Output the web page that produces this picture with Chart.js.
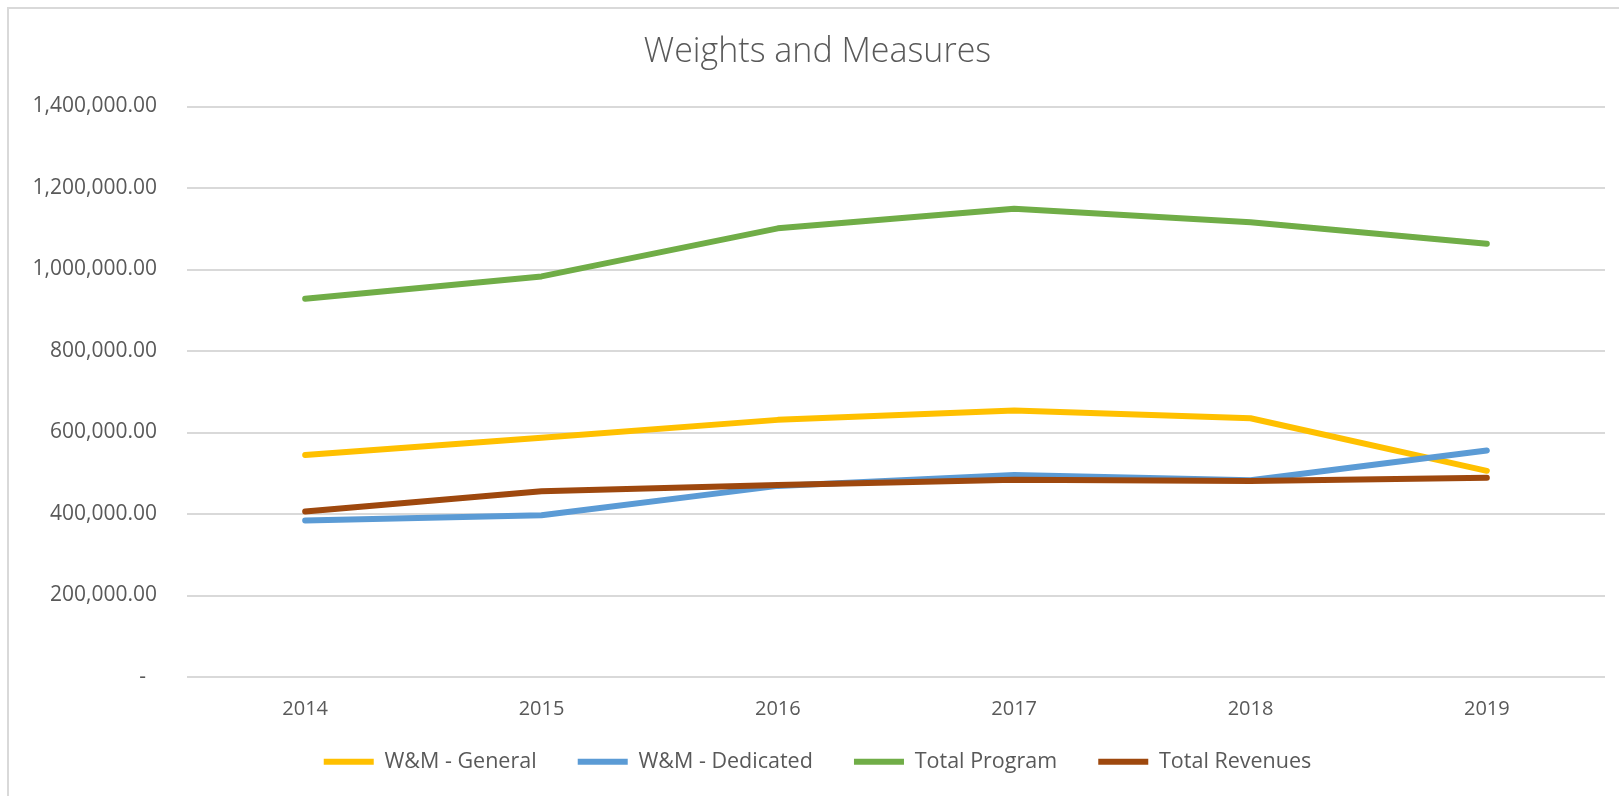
<!DOCTYPE html>
<html>
<head>
<meta charset="utf-8">
<script src="https://cdn.jsdelivr.net/npm/chart.js@4.4.1/dist/chart.umd.min.js"></script>
<style>
  html, body { margin: 0; padding: 0; background: #ffffff; }
  #wrap { position: relative; width: 1619px; height: 796px; overflow: hidden; }
  #c { position: absolute; left: 0; top: 0; }
  #frame { position: absolute; left: 7px; top: 7px; width: 1700px; height: 900px;
           border-left: 2px solid #d9d9d9; border-top: 2px solid #d9d9d9; pointer-events: none; }
</style>
</head>
<body>
<div id="wrap">
  <canvas id="c" width="1619" height="796"></canvas>
  <div id="frame"></div>
</div>
<script>
// ---- data ----
const categories = ['2014', '2015', '2016', '2017', '2018', '2019'];
const wmGeneral = [545000, 587000, 631000, 654000, 635000, 506000];
const wmDedicated = [384000, 397000, 469000, 496000, 483000, 556000];
const totalProgram = [928000, 983000, 1101000, 1149000, 1116000, 1063000];
const totalRevenues = [406000, 456000, 471000, 484000, 481000, 489000];
const seriesNames = ['W&M - General', 'W&M - Dedicated', 'Total Program', 'Total Revenues'];
const yTickLabels = ['-  ', '200,000.00', '400,000.00', '600,000.00', '800,000.00',
                     '1,000,000.00', '1,200,000.00', '1,400,000.00'];
const yMin = 0, yMax = 1400000, yStep = 200000;
const chartTitle = 'Weights and Measures';

// ---- styles ----
const colors = ['#FFC000', '#5B9BD5', '#70AD47', '#9E480E'];
const textColor = '#595959';
const gridColor = '#d9d9d9';
const FONT = "'Open Sans', 'Noto Sans', 'DejaVu Sans', sans-serif";

function makeDataset(label, data, color, order) {
  return {
    label: label,
    data: data,
    borderColor: color,
    backgroundColor: color,
    borderWidth: 6,
    borderCapStyle: 'round',
    borderJoinStyle: 'round',
    pointRadius: 0,
    pointHoverRadius: 0,
    tension: 0,
    fill: false,
    order: order
  };
}

function draw() {
  const ctx = document.getElementById('c').getContext('2d');
  const defaultLabels = Chart.defaults.plugins.legend.labels.generateLabels;
  new Chart(ctx, {
    type: 'line',
    data: {
      labels: categories,
      datasets: [
        makeDataset(seriesNames[0], wmGeneral, colors[0], 4),
        makeDataset(seriesNames[1], wmDedicated, colors[1], 3),
        makeDataset(seriesNames[2], totalProgram, colors[2], 2),
        makeDataset(seriesNames[3], totalRevenues, colors[3], 1)
      ]
    },
    options: {
      responsive: false,
      devicePixelRatio: 1,
      animation: false,
      events: [],
      layout: { padding: { left: 30, right: 14, top: 0, bottom: 13.5 } },
      plugins: {
        tooltip: { enabled: false },
        title: {
          display: true,
          text: chartTitle,
          color: textColor,
          font: { family: FONT, size: 34, weight: '300' },
          padding: { top: 32, bottom: 33.7 }
        },
        legend: {
          display: true,
          position: 'bottom',
          labels: {
            usePointStyle: true,
            pointStyle: 'line',
            pointStyleWidth: 50,
            color: textColor,
            font: { family: FONT, size: 21.5 },
            padding: 30,
            generateLabels: (chart) => {
              const items = defaultLabels(chart).sort((a, b) => a.datasetIndex - b.datasetIndex);
              return items.map((it, i) => Object.assign({}, it, {
                text: i < items.length - 1 ? it.text + '  ' : it.text
              }));
            }
          }
        }
      },
      scales: {
        x: {
          type: 'category',
          offset: true,
          grid: { display: false, drawTicks: false },
          border: { display: false },
          ticks: { color: textColor, font: { family: FONT, size: 20 }, padding: 20, maxRotation: 0 },
          afterFit: (s) => { s.height = 44; }
        },
        y: {
          min: yMin,
          max: yMax,
          grid: { color: gridColor, lineWidth: 2, drawTicks: false },
          border: { display: false },
          ticks: {
            stepSize: yStep,
            color: textColor,
            font: { family: FONT, size: 21 },
            padding: 30,
            callback: (v, i) => yTickLabels[i]
          },
          afterFit: (s) => { s.width = 157; }
        }
      }
    }
  });
}

if (document.fonts && document.fonts.load) {
  Promise.all([
    document.fonts.load("21px 'Open Sans'"),
    document.fonts.load("300 34px 'Open Sans'")
  ]).then(draw, draw);
} else {
  draw();
}
</script>
</body>
</html>
